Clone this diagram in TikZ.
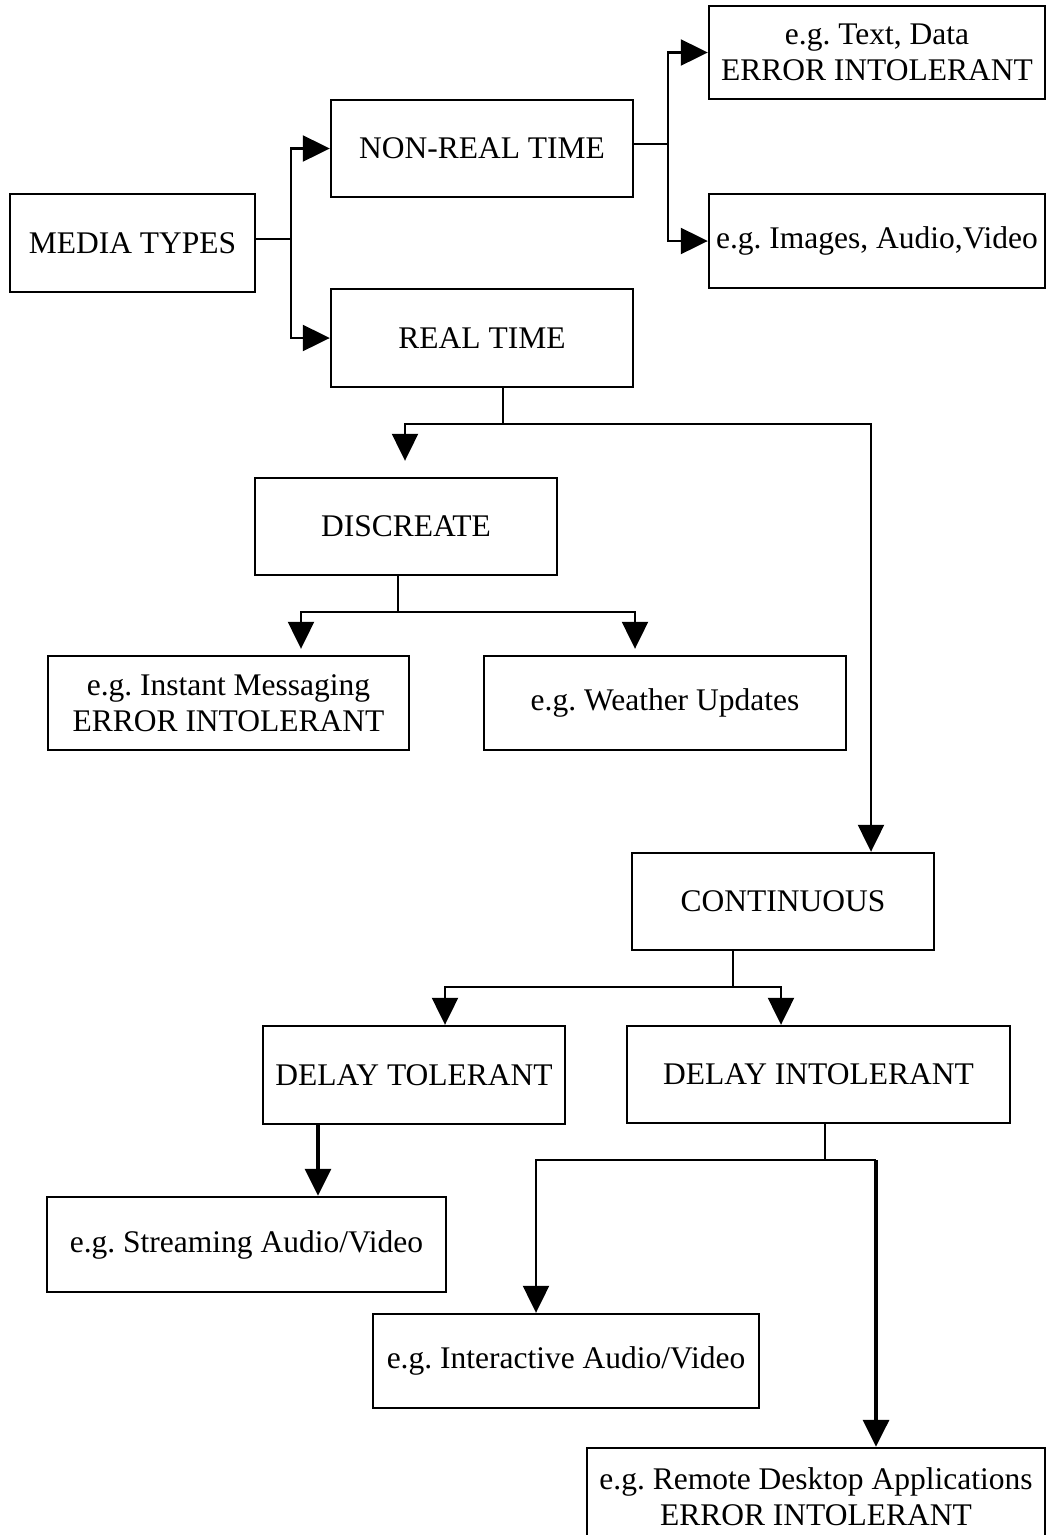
\documentclass[tikz,border=0pt]{standalone}
\usepackage{fontspec}
\setmainfont{Liberation Serif}
\usetikzlibrary{arrows.meta}
\frenchspacing

\begin{document}
\begin{tikzpicture}[x=1pt,y=-1pt,
    box/.style={draw, line width=2.4pt, inner sep=0pt, align=center,
        font=\fontsize{31.5}{36}\selectfont},
    link/.style={line width=2.2pt},
    arr/.style={line width=2.2pt, -{Triangle[length=27pt,width=26pt]}},
    bold arr/.style={arr, line width=3.4pt}]
    \useasboundingbox (0,0) rectangle (1046,1535);
    % boxes
    \node[box, minimum width=245pt, minimum height=98pt] (media) at (132.5,243) {MEDIA TYPES};
    \node[box, minimum width=302pt, minimum height=97pt] (nonreal) at (482,148.5) {NON-REAL TIME};
    \node[box, minimum width=302pt, minimum height=98pt] (real) at (482,338) {REAL TIME};
    \node[box, minimum width=336pt, minimum height=93pt] (textdata) at (877,52.5) {e.g. Text, Data\\ERROR INTOLERANT};
    \node[box, minimum width=336pt, minimum height=94pt] (images) at (877,241) {e.g. Images, Audio,Video};
    \node[box, minimum width=302pt, minimum height=97pt] (discreate) at (406,526.5) {DISCREATE};
    \node[box, minimum width=361pt, minimum height=94pt] (instant) at (228.5,703) {e.g. Instant Messaging\\ERROR INTOLERANT};
    \node[box, minimum width=362pt, minimum height=94pt] (weather) at (665,703) {e.g. Weather Updates};
    \node[box, minimum width=302pt, minimum height=97pt] (continuous) at (783,901.5) {CONTINUOUS};
    \node[box, minimum width=302pt, minimum height=98pt] (delaytol) at (414,1075) {DELAY TOLERANT};
    \node[box, minimum width=383pt, minimum height=97pt] (delayint) at (818.5,1074.5) {DELAY INTOLERANT};
    \node[box, minimum width=399pt, minimum height=95pt] (streaming) at (246.5,1244.5) {e.g. Streaming Audio/Video};
    \node[box, minimum width=386pt, minimum height=94pt] (interactive) at (566,1361) {e.g. Interactive Audio/Video};
    \node[box, minimum width=458pt, minimum height=98pt] (remote) at (816,1497) {e.g. Remote Desktop Applications\\ERROR INTOLERANT};
    % junctions
    \coordinate (mj) at (291,239);
    \coordinate (nj) at (668,144);
    \coordinate (rj) at (503,424);
    \coordinate (rl) at (405,424);
    \coordinate (rr) at (871,424);
    \coordinate (dj) at (398,612);
    \coordinate (dl) at (301,612);
    \coordinate (dr) at (635,612);
    \coordinate (cj) at (733,987);
    \coordinate (cl) at (445,987);
    \coordinate (cr) at (781,987);
    \coordinate (tj) at (318,1160);
    \coordinate (ij) at (825,1160);
    \coordinate (il) at (536,1160);
    \coordinate (ir) at (876,1160);
    % connectors
    \draw[link] (media.east |- mj) -- (mj);
    \draw[arr] (mj) |- (nonreal);
    \draw[arr] (mj) |- (real);
    \draw[link] (nonreal.east |- nj) -- (nj);
    \draw[arr] (nj) |- (textdata);
    \draw[arr] (nj) |- (images);
    \draw[link] (real.south -| rj) -- (rj);
    \draw[arr, shorten >=16pt] (rj) -- (rl) -- (rl |- discreate.north);
    \draw[arr] (rj) -- (rr) -- (rr |- continuous.north);
    \draw[link] (discreate.south -| dj) -- (dj);
    \draw[arr, shorten >=6pt] (dj) -- (dl) -- (dl |- instant.north);
    \draw[arr, shorten >=6pt] (dj) -- (dr) -- (dr |- weather.north);
    \draw[link] (continuous.south -| cj) -- (cj);
    \draw[arr] (cj) -- (cl) -- (cl |- delaytol.north);
    \draw[arr] (cj) -- (cr) -- (cr |- delayint.north);
    \draw[bold arr] (delaytol.south -| tj) -- (streaming.north -| tj);
    \draw[link] (delayint.south -| ij) -- (ij);
    \draw[arr] (ij) -- (il) -- (il |- interactive.north);
    \draw[link] (ij) -- (ir);
    \draw[bold arr] (ir) -- (ir |- remote.north);
\end{tikzpicture}
\end{document}
